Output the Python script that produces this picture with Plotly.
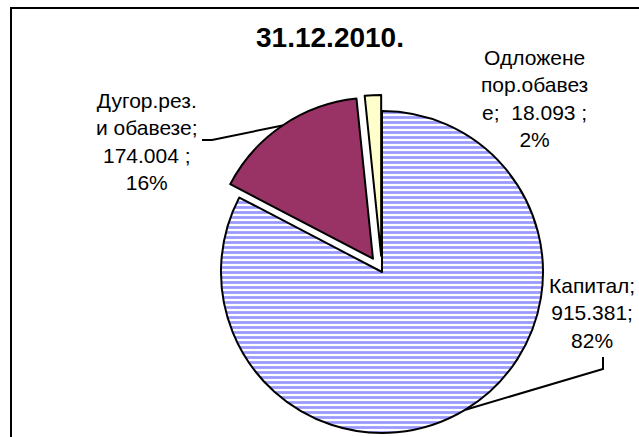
import math
import plotly.graph_objects as go

# chart data
slice_names = ["Капитал", "Дугор.рез. и обавезе", "Одложене пор.обавезе"]
slice_values = [915.381, 174.004, 18.093]
value_labels = ["915.381;", "174.004 ;", "18.093 ;"]
pct_labels = ["82%", "16%", "2%"]
name_lines = ["Капитал;", "Дугор.рез.<br>и обавезе;", "Одложене<br>пор.обавез<br>е;"]
chart_title = "31.12.2010."

# the figure is a bit taller than the window: the chart's bottom is cut off like in the original
W, H = 639, 460
FONT = "Arial, Liberation Sans, sans-serif"

# pie geometry (pixels)
cx, cy = 382, 272
r = 161
pull = [0, 0.1, 0.1]
half = r * (1 + max(pull))


def px(x, y):
    return x / W, 1 - y / H


fig = go.Figure()

fig.add_trace(go.Pie(
    labels=slice_names,
    values=slice_values,
    sort=False,
    direction="clockwise",
    rotation=0,
    pull=pull,
    textinfo="none",
    hoverinfo="label+value+percent",
    showlegend=False,
    domain=dict(x=[(cx - half) / W, (cx + half) / W], y=[1 - (cy + half) / H, 1 - (cy - half) / H]),
    marker=dict(
        colors=["white", "#993366", "#FFFFCC"],
        line=dict(color="black", width=2),
        pattern=dict(
            shape=["-", "", ""],
            fgcolor="#9999FF",
            bgcolor=["white", "#993366", "#FFFFCC"],
            size=5,
            solidity=0.55,
        ),
    ),
))

# mid-angle point on each slice's arc (for leader lines)
total = sum(slice_values)
mid_pts = []
acc = 0
for i, v in enumerate(slice_values):
    a = (acc + v / 2) / total * 2 * math.pi
    acc += v
    dx, dy = math.sin(a), -math.cos(a)
    off = pull[i] * r
    mid_pts.append((cx + dx * (r + off), cy + dy * (r + off)))

# labels: (x, y, xanchor)
label_pos = [(637, 313, "right"), (147, 141, "center"), (534, 99, "center")]
for i in range(len(slice_names)):
    sep = "  " if i == 2 else "<br>"
    text = name_lines[i] + sep + value_labels[i] + "<br>" + pct_labels[i]
    lx, ly, anchor = label_pos[i]
    x, y = px(lx, ly)
    fig.add_annotation(
        x=x, y=y, xref="paper", yref="paper",
        text=text, showarrow=False,
        xanchor=anchor, yanchor="middle", align="center",
        font=dict(family=FONT, size=21, color="black"),
    )

# leader lines
def path(points):
    return "M " + " L ".join(f"{x / W},{1 - y / H}" for x, y in points)

mx, my = mid_pts[0]
fig.add_shape(type="path", xref="paper", yref="paper",
              path=path([(603, 357), (603, 369), (mx, my)]),
              line=dict(color="black", width=2))
mx, my = mid_pts[1]
fig.add_shape(type="path", xref="paper", yref="paper",
              path=path([(202, 140), (212, 140), (mx, my)]),
              line=dict(color="black", width=2))

# chart frame (cut off on the right and bottom)
fig.add_shape(type="rect", xref="paper", yref="paper",
              x0=11 / W, y0=-0.1, x1=1.1, y1=1 - 8 / H,
              line=dict(color="black", width=2))

fig.update_layout(
    width=W,
    height=H,
    margin=dict(l=0, r=0, t=0, b=0),
    paper_bgcolor="white",
    plot_bgcolor="white",
    title=dict(
        text="<b>" + chart_title + "</b>",
        x=330 / W, y=1 - 37 / H,
        xanchor="center", yanchor="middle",
        font=dict(family=FONT, size=28, color="black"),
    ),
)

# no page margin, no scrollbars: the figure sits at the window's corner
fig.write_html(
    "out.html",
    config={"displayModeBar": False},
    post_script="document.body.style.margin='0';document.body.style.overflow='hidden';"
                "document.documentElement.style.overflow='hidden';",
)
